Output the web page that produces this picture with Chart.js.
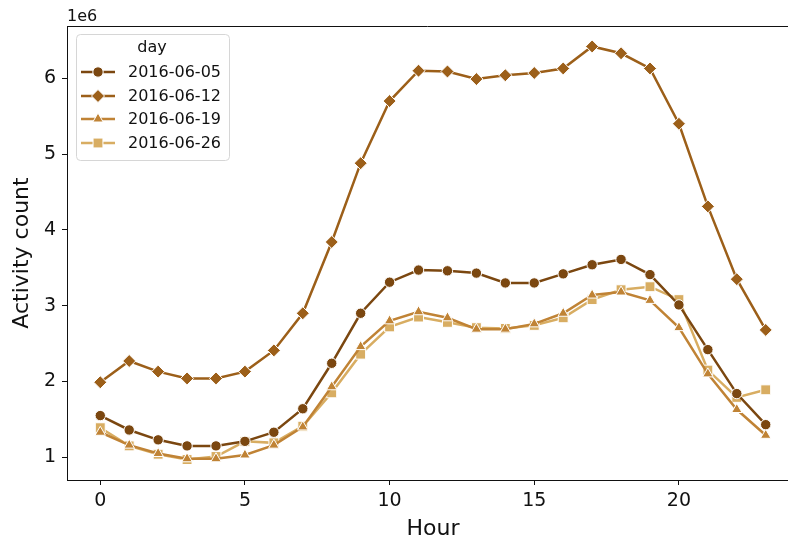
<!DOCTYPE html>
<html>
<head>
<meta charset="utf-8">
<script src="https://cdn.jsdelivr.net/npm/chart.js@4.4.0/dist/chart.umd.min.js"></script>
<style>
  html, body { margin: 0; padding: 0; background: #fff; }
  #wrap { width: 788px; height: 542px; }
</style>
</head>
<body>
<div id="wrap"><canvas id="activityChartId" width="788" height="542"></canvas></div>
<script>
// values are in millions (axis shows the 1e6 offset)
var hours = [0, 1, 2, 3, 4, 5, 6, 7, 8, 9, 10, 11, 12, 13, 14, 15, 16, 17, 18, 19, 20, 21, 22, 23];
var days = ['2016-06-05', '2016-06-12', '2016-06-19', '2016-06-26'];
var day0605 = [1.55, 1.36, 1.23, 1.15, 1.15, 1.21, 1.33, 1.64, 2.24, 2.90, 3.31, 3.47, 3.46, 3.43, 3.30, 3.30, 3.42, 3.54, 3.61, 3.41, 3.01, 2.42, 1.84, 1.43];
var day0612 = [1.99, 2.27, 2.13, 2.04, 2.04, 2.13, 2.41, 2.90, 3.84, 4.88, 5.70, 6.10, 6.09, 5.99, 6.04, 6.07, 6.13, 6.42, 6.33, 6.13, 5.40, 4.31, 3.35, 2.68];
var day0619 = [1.33, 1.16, 1.05, 0.98, 0.98, 1.03, 1.16, 1.40, 1.93, 2.46, 2.80, 2.92, 2.84, 2.69, 2.69, 2.76, 2.90, 3.14, 3.18, 3.07, 2.71, 2.10, 1.63, 1.29];
var day0626 = [1.39, 1.15, 1.04, 0.97, 1.01, 1.21, 1.19, 1.41, 1.85, 2.36, 2.72, 2.85, 2.78, 2.71, 2.70, 2.74, 2.84, 3.08, 3.21, 3.25, 3.08, 2.15, 1.79, 1.89];
var xTicks = [0, 5, 10, 15, 20];
var yTicks = [1, 2, 3, 4, 5, 6];

var seriesValues = [day0605, day0612, day0619, day0626];
var colors = ['#7b4710', '#9c5f19', '#c08335', '#d8ad62'];
var markers = ['circle', 'rectRot', 'triangle', 'rect'];
var markerSize = [5.2, 6.5, 6, 7];
var font = 'DejaVu Sans';
var ink = '#111';

function toPoints(vals) {
    return hours.map(function(h, i) { return {x: h, y: vals[i]}; });
}

var datasets = days.map(function(d, i) {
    return {
        label: d,
        data: toPoints(seriesValues[i]),
        borderColor: colors[i],
        backgroundColor: colors[i],
        borderWidth: 2.5,
        pointStyle: markers[i],
        pointRadius: markerSize[i],
        pointBorderColor: '#ffffff',
        pointBorderWidth: 1,
        pointBackgroundColor: colors[i],
        tension: 0
    };
});

// matplotlib-like legend box, top spine, axis titles and offset text
var extras = {
    id: 'extras',
    afterDraw: function(chart) {
        var ctx = chart.ctx;
        var area = chart.chartArea;
        ctx.save();
        ctx.strokeStyle = ink;
        ctx.lineWidth = 1;
        ctx.beginPath();
        ctx.moveTo(area.left, area.top + 0.5);
        ctx.lineTo(area.right, area.top + 0.5);
        ctx.stroke();

        ctx.fillStyle = ink;
        ctx.font = '16px "' + font + '"';
        ctx.textAlign = 'left';
        ctx.textBaseline = 'alphabetic';
        ctx.fillText('1e6', 67, 21);

        // axis titles
        ctx.font = '22px "' + font + '"';
        ctx.textAlign = 'center';
        ctx.textBaseline = 'middle';
        ctx.fillText('Hour', chart.scales.x.getPixelForValue(11.5), 529);
        ctx.save();
        ctx.translate(22, (area.top + area.bottom) / 2);
        ctx.rotate(-Math.PI / 2);
        ctx.fillText('Activity count', 0, 0);
        ctx.restore();

        // legend
        var bx = 76, by = 34, bw = 153, bh = 126, r = 4;
        ctx.fillStyle = 'rgba(255,255,255,0.8)';
        ctx.strokeStyle = '#d6d6d6';
        ctx.lineWidth = 1;
        ctx.beginPath();
        ctx.roundRect(bx + 0.5, by + 0.5, bw, bh, r);
        ctx.fill();
        ctx.stroke();

        ctx.font = '16px "' + font + '"';
        ctx.fillStyle = ink;
        ctx.textAlign = 'center';
        ctx.textBaseline = 'middle';
        ctx.fillText('day', 152, 48);
        var rowY = [72, 96, 119, 143];
        days.forEach(function(d, i) {
            ctx.strokeStyle = colors[i];
            ctx.lineWidth = 2.5;
            ctx.beginPath();
            ctx.moveTo(81, rowY[i]);
            ctx.lineTo(115, rowY[i]);
            ctx.stroke();
            ctx.fillStyle = colors[i];
            ctx.strokeStyle = '#ffffff';
            ctx.lineWidth = 1;
            Chart.helpers.drawPoint(ctx, {
                pointStyle: markers[i], radius: markerSize[i], borderWidth: 1, rotation: 0
            }, 98, rowY[i]);
            ctx.fillStyle = ink;
            ctx.textAlign = 'left';
            ctx.fillText(d, 128, rowY[i] + 1);
        });
        ctx.restore();
    }
};

var chartEl = document.getElementById('activityChartId').getContext('2d');
var lineChart = new Chart(chartEl, {
    type: 'line',
    data: { datasets: datasets },
    plugins: [extras],
    options: {
        responsive: false,
        animation: false,
        layout: { autoPadding: false, padding: { top: 26, right: 0, left: 0, bottom: 0 } },
        plugins: {
            legend: { display: false },
            tooltip: { enabled: false }
        },
        scales: {
            x: {
                type: 'linear',
                min: -1.15,
                max: 23.77,
                afterBuildTicks: function(scale) {
                    scale.ticks = xTicks.map(function(v) { return {value: v}; });
                },
                afterFit: function(scale) {
                    scale.height = 62;
                    scale.paddingLeft = 0;
                    scale.paddingRight = 0;
                },
                grid: { drawOnChartArea: false, drawTicks: true, tickLength: 5, tickColor: ink, tickWidth: 1 },
                border: { display: true, color: ink, width: 1 },
                ticks: { color: ink, font: { family: font, size: 19 }, padding: 5, maxRotation: 0 }
            },
            y: {
                type: 'linear',
                min: 0.70,
                max: 6.69,
                afterBuildTicks: function(scale) {
                    scale.ticks = yTicks.map(function(v) { return {value: v}; });
                },
                afterFit: function(scale) {
                    scale.width = 67;
                    scale.paddingTop = 0;
                    scale.paddingBottom = 0;
                },
                grid: { drawOnChartArea: false, drawTicks: true, tickLength: 5, tickColor: ink, tickWidth: 1 },
                border: { display: true, color: ink, width: 1 },
                ticks: { color: ink, font: { family: font, size: 19 }, padding: 6 }
            }
        }
    }
});
</script>
</body>
</html>
